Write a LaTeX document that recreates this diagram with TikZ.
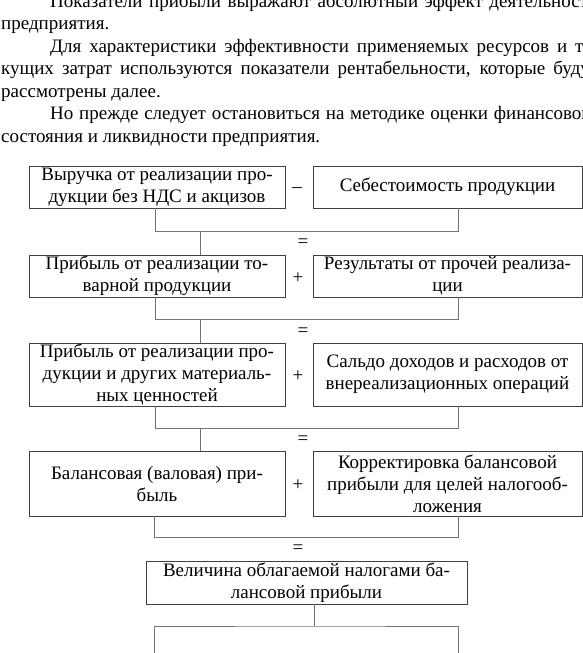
\documentclass[tikz,border=0pt]{standalone}
\usepackage{fontspec}
\setmainfont{Liberation Serif}
\usepackage{tikz}

\newcommand{\bodyfont}{\fontsize{19}{22.5}\selectfont}
\newcommand{\boxfont}{\fontsize{19}{22}\selectfont}

\tikzset{
  blk/.style={draw=black!75, line width=0.8pt, inner sep=0pt, align=center, font=\boxfont},
  link/.style={draw=black!55, line width=0.8pt},
  op/.style={inner sep=0pt, font=\boxfont}
}

\begin{document}
\begin{tikzpicture}[x=1pt, y=-1pt]
  \useasboundingbox (0,0) rectangle (583,653);

  % text above the scheme
  \node[anchor=base west, inner sep=0pt, font=\bodyfont] (txt) at (1,7) {\parbox[t]{597pt}{\setlength{\parindent}{49pt}\emergencystretch=2em
    Показатели прибыли выражают абсолютный эффект деятельности\linebreak предприятия.\par
    Для характеристики эффективности применяемых ресурсов и те-\linebreak кущих затрат используются показатели рентабельности, которые будут\linebreak рассмотрены далее.\par
    Но прежде следует остановиться на методике оценки финансового\linebreak состояния и ликвидности предприятия.}};

  % boxes
  \node[blk, minimum width=256pt, minimum height=42pt] (rev) at (157,187) {Выручка от реализации про-\\дукции без НДС и акцизов};
  \node[blk, minimum width=269pt, minimum height=42pt] (cost) at (447.5,187) {Себестоимость продукции};
  \node[blk, minimum width=256pt, minimum height=42pt] (prof1) at (157,276) {Прибыль от реализации то-\\варной продукции};
  \node[blk, minimum width=269pt, minimum height=42pt] (other) at (447.5,276) {Результаты от прочей реализа-\\ции};
  \node[blk, minimum width=256pt, minimum height=63pt] (prof2) at (157,374.5) {Прибыль от реализации про-\\дукции и других материаль-\\ных ценностей};
  \node[blk, minimum width=269pt, minimum height=63pt] (saldo) at (447.5,374.5) {Сальдо доходов и расходов от\\внереализационных операций};
  \node[blk, minimum width=256pt, minimum height=65pt] (bal) at (157,483.5) {Балансовая (валовая) при-\\быль};
  \node[blk, minimum width=269pt, minimum height=65pt] (corr) at (447.5,483.5) {Корректировка балансовой\\прибыли для целей налогооб-\\ложения};
  \node[blk, minimum width=321pt, minimum height=43pt] (taxable) at (306.5,582.5) {Величина облагаемой налогами ба-\\лансовой прибыли};

  % operators
  \node[op] (m1) at (297,190) {–};
  \node[op] (p2) at (298,278) {+};
  \node[op] (p3) at (298,376) {+};
  \node[op] (p4) at (298,485) {+};
  \node[op] (e1) at (303,243) {=};
  \node[op] (e2) at (303,332) {=};
  \node[op] (e3) at (303,440) {=};
  \node[op] (e4) at (298,549) {=};

  % brackets
  \coordinate (j1) at (200,231);
  \coordinate (j2) at (200,319);
  \coordinate (j3) at (200,428);
  \coordinate (j4) at (306,537);
  \draw[link] ([xshift=-2pt]rev.south) |- ([xshift=10.5pt]cost.south |- j1) -- ([xshift=10.5pt]cost.south);
  \draw[link] (j1) -- (j1 |- prof1.north);
  \draw[link] ([xshift=-2pt]prof1.south) |- ([xshift=10.5pt]other.south |- j2) -- ([xshift=10.5pt]other.south);
  \draw[link] (j2) -- (j2 |- prof2.north);
  \draw[link] ([xshift=-2pt]prof2.south) |- ([xshift=10.5pt]saldo.south |- j3) -- ([xshift=10.5pt]saldo.south);
  \draw[link] (j3) -- (j3 |- bal.north);
  \draw[link] ([xshift=-3pt]bal.south) |- ([xshift=10.5pt]corr.south |- j4) -- ([xshift=10.5pt]corr.south);

  % split to the next level
  \coordinate (s1) at (314,626);
  \coordinate (d1) at (154,653);
  \coordinate (d2) at (458,653);
  \draw[link] (taxable.south -| s1) -- (s1);
  \draw[link] (d1) |- (s1) -| (d2);
\end{tikzpicture}
\end{document}
